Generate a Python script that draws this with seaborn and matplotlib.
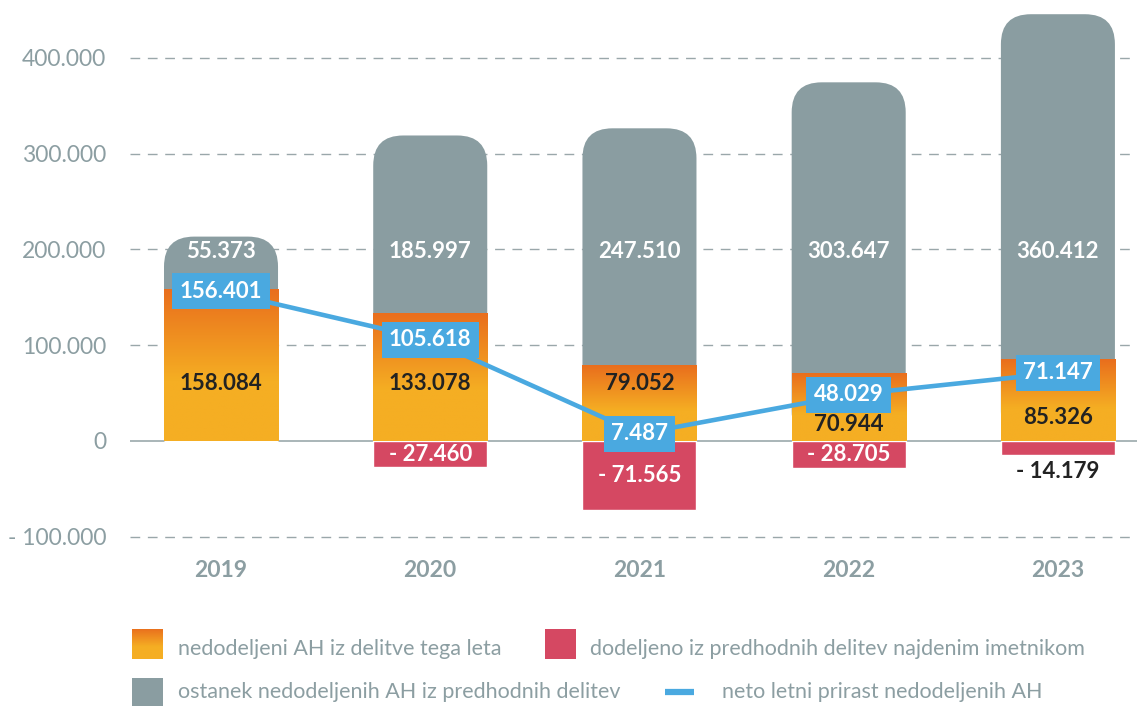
import numpy as np
import pandas as pd
import matplotlib
matplotlib.use("Agg")
import matplotlib.pyplot as plt
import seaborn as sns
from matplotlib.patches import FancyBboxPatch, Rectangle
from matplotlib.lines import Line2D
from matplotlib.colors import to_rgb

# ---------------- data ----------------
years = ["2019", "2020", "2021", "2022", "2023"]
new_unallocated = [158084, 133078, 79052, 70944, 85326]      # nedodeljeni AH iz delitve tega leta
remaining_prev = [55373, 185997, 247510, 303647, 360412]     # ostanek nedodeljenih AH iz predhodnih delitev
allocated_prev = [0, -27460, -71565, -28705, -14179]         # dodeljeno iz predhodnih delitev najdenim imetnikom
net_growth = [156401, 105618, 7487, 48029, 71147]            # neto letni prirast nedodeljenih AH

y_ticks = [-100000, 0, 100000, 200000, 300000, 400000]
y_tick_labels = ["- 100.000", "0", "100.000", "200.000", "300.000", "400.000"]

legend_labels = [
    "nedodeljeni AH iz delitve tega leta",
    "dodeljeno iz predhodnih delitev najdenim imetnikom",
    "ostanek nedodeljenih AH iz predhodnih delitev",
    "neto letni prirast nedodeljenih AH",
]

# ---------------- style ----------------
GRAY = "#8A9DA1"
RED = "#D54862"
BLUE = "#4AA9E0"
ORANGE_TOP = "#E96E1D"
ORANGE_BOT = "#F5AE23"
TXT_GRAY = "#8C9EA2"
DARK = "#222222"

sns.set_style("white")
plt.rcParams["font.family"] = ["Lato", "DejaVu Sans"]

W, H = 1137, 706
fig = plt.figure(figsize=(W / 100, H / 100), dpi=100)
ax_top_px, ax_bot_px, ax_left_px = 0.55, 546.3, 130
ax = fig.add_axes([ax_left_px / W, 1 - ax_bot_px / H, 1 - ax_left_px / W,
                   (ax_bot_px - ax_top_px) / H])

def fmt(v):
    s = f"{abs(v):,}".replace(",", ".")
    return ("- " + s) if v < 0 else s

df = pd.DataFrame({
    "year": years,
    "total": np.array(new_unallocated) + np.array(remaining_prev),
    "new": new_unallocated,
    "alloc": allocated_prev,
    "net": net_growth,
})

BAR_W = 0.545
XLIM = (-0.435, 4.378)
YLIM = (-110000, 460000)

# gray (total) bars, orange bars, red bars through seaborn
sns.barplot(data=df, x="year", y="total", color=GRAY, width=BAR_W, saturation=1,
            errorbar=None, ax=ax, zorder=2)
gray_bars = list(ax.containers[-1])
sns.barplot(data=df, x="year", y="new", color=ORANGE_BOT, width=BAR_W, saturation=1,
            errorbar=None, ax=ax, zorder=3)
orange_bars = list(ax.containers[-1])
sns.barplot(data=df, x="year", y="alloc", color=RED, width=BAR_W, saturation=1,
            errorbar=None, ax=ax, zorder=3)
red_bars = list(ax.containers[-1])

ax.set_xlim(*XLIM)
ax.set_ylim(*YLIM)

# data units per pixel, for rounded corners
bbox = ax.get_window_extent()
x_per_px = (XLIM[1] - XLIM[0]) / bbox.width
y_per_px = (YLIM[1] - YLIM[0]) / bbox.height
aspect = y_per_px / x_per_px
radius_px = 30

# rounded gray bars
for p in gray_bars:
    x0, w, h = p.get_x(), p.get_width(), p.get_height()
    p.set_visible(False)
    fb = FancyBboxPatch((x0, 0), w, h,
                        boxstyle=f"round,pad=0,rounding_size={radius_px * x_per_px}",
                        mutation_aspect=aspect, facecolor=GRAY, edgecolor="none", zorder=2)
    ax.add_patch(fb)

# gradient orange bars
c_top = np.array(to_rgb(ORANGE_TOP))
c_bot = np.array(to_rgb(ORANGE_BOT))
def grad_img(n=200, frac=0.6):
    t = np.linspace(0, 1, n)
    k = np.clip(t / frac, 0, 1)[:, None]
    img = c_top[None, :] * (1 - k) + c_bot[None, :] * k
    return img[:, None, :]

for p in orange_bars:
    x0, w, h = p.get_x(), p.get_width(), p.get_height()
    p.set_visible(False)
    ax.imshow(grad_img(), extent=[x0, x0 + w, 0, h], aspect="auto", zorder=3,
              interpolation="bilinear")

ax.set_xlim(*XLIM)
ax.set_ylim(*YLIM)

# net growth line
xs = np.arange(len(years))
sns.lineplot(x=xs, y=net_growth, color=BLUE, lw=3.3, ax=ax, legend=False, zorder=5)

# grid
for yt in y_ticks:
    if yt == 0:
        ax.axhline(0, color="#A9B5B8", lw=1.4, zorder=1.5)
    else:
        ax.axhline(yt, color="#9AA7AA", lw=1.0, ls=(0, (7, 5.5)), zorder=1)

# labels
FS = 16
FW = "bold"
gray_label_y = 198000
orange_label_y = [60000, 60000, 60000, 17500, 25000]
for i in range(len(years)):
    ax.text(i, gray_label_y, fmt(remaining_prev[i]), ha="center", va="center",
            color="white", fontsize=FS, fontweight=FW, zorder=6)
    ax.text(i, orange_label_y[i], fmt(new_unallocated[i]), ha="center", va="center",
            color=DARK, fontsize=FS, fontweight=FW, zorder=6)
    v = allocated_prev[i]
    if v != 0:
        if -v > 20000:
            ax.text(i, v / 2, fmt(v), ha="center", va="center", color="white",
                    fontsize=FS, fontweight=FW, zorder=6)
        else:
            ax.text(i, v - 18000, fmt(v), ha="center", va="center", color=DARK,
                    fontsize=FS, fontweight=FW, zorder=6)
    ax.text(i, net_growth[i], fmt(net_growth[i]), ha="center", va="center",
            color="white", fontsize=FS, fontweight=FW, zorder=7,
            bbox=dict(boxstyle="square,pad=0.33", facecolor=BLUE, edgecolor="none"))

# axes cosmetics
for s in ax.spines.values():
    s.set_visible(False)
ax.set_yticks(y_ticks)
ax.set_yticklabels(y_tick_labels)
ax.set_xticks(xs)
ax.set_xticklabels(years)
ax.set_xlabel("")
ax.set_ylabel("")
ax.tick_params(axis="y", length=0, pad=17, labelsize=16.5, labelcolor=TXT_GRAY)
ax.tick_params(axis="x", length=0, pad=10, labelsize=16.5, labelcolor=TXT_GRAY)
for lab in ax.get_xticklabels():
    lab.set_fontweight("bold")

# legend (manual, in figure pixels)
def fx(x): return x / W
def fy(y): return 1 - y / H

lax = fig.add_axes([fx(132), fy(659), 31 / W, 30 / H])
lax.imshow(grad_img(50, 0.6), aspect="auto", extent=[0, 1, 0, 1])
lax.set_axis_off()
fig.add_artist(Rectangle((fx(545), fy(659)), 31 / W, 30 / H, transform=fig.transFigure,
                         facecolor=RED, edgecolor="none"))
fig.add_artist(Rectangle((fx(132), fy(708)), 31 / W, 30 / H, transform=fig.transFigure,
                         facecolor=GRAY, edgecolor="none"))
fig.add_artist(Line2D([fx(665), fx(694)], [fy(692), fy(692)], transform=fig.transFigure,
                      color=BLUE, lw=4.5, solid_capstyle="butt"))
LFS = 15.5
fig.text(fx(178), fy(649), legend_labels[0], ha="left", va="center", color=TXT_GRAY, fontsize=LFS)
fig.text(fx(590), fy(649), legend_labels[1], ha="left", va="center", color=TXT_GRAY, fontsize=LFS)
fig.text(fx(178), fy(692), legend_labels[2], ha="left", va="center", color=TXT_GRAY, fontsize=LFS)
fig.text(fx(722), fy(692), legend_labels[3], ha="left", va="center", color=TXT_GRAY, fontsize=LFS)

fig.savefig("out.png", dpi=100)
